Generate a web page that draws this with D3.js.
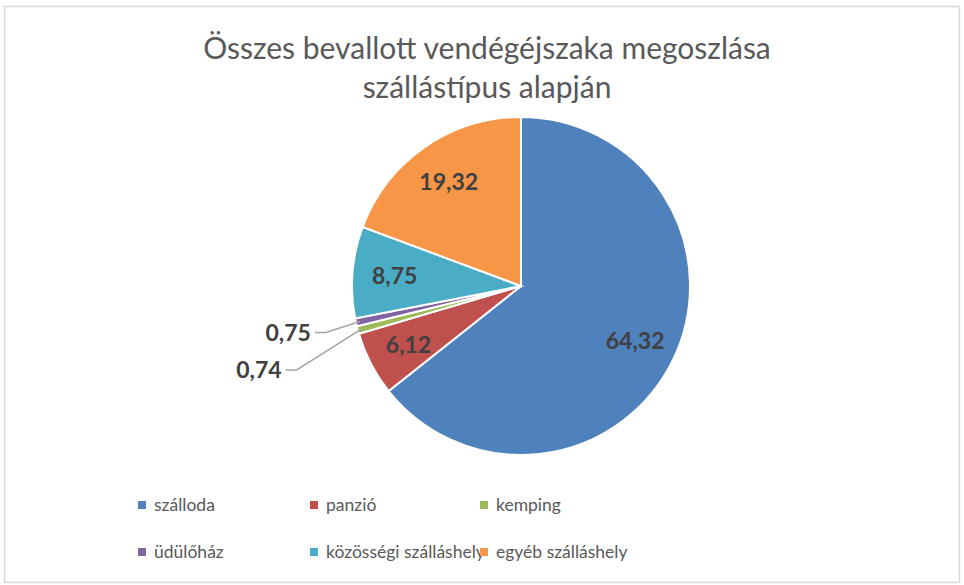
<!DOCTYPE html>
<html>
<head>
<meta charset="utf-8">
<script src="https://cdn.jsdelivr.net/npm/d3@7"></script>
<style>
  body { margin: 0; background: #fff; }
  text { font-family: Lato, "Open Sans", sans-serif; }
</style>
</head>
<body>
<div id="chart"></div>
<script>
// Data
const categories = ["szálloda", "panzió", "kemping", "üdülőház", "közösségi szálláshely", "egyéb szálláshely"];
const values = [64.32, 6.12, 0.74, 0.75, 8.75, 19.32];
const colors = ["#4F81BD", "#C0504D", "#9BBB59", "#8064A2", "#4BACC6", "#F79646"];
const titleLines = ["Összes bevallott vendégéjszaka megoszlása", "szállástípus alapján"];

const width = 964, height = 585;
const cx = 521, cy = 286, radius = 169;

const svg = d3.select("#chart")
    .append("svg")
    .attr("width", width)
    .attr("height", height);

// chart frame
svg.append("rect")
    .attr("x", 4.5).attr("y", 6.5)
    .attr("width", 955).attr("height", 576)
    .attr("fill", "#fff")
    .attr("stroke", "#d9d9d9")
    .attr("stroke-width", 1.5);

// Title
svg.append("text")
    .attr("x", 489)
    .attr("y", 59)
    .attr("text-anchor", "middle")
    .attr("fill", "#595959")
    .style("font-size", "30px")
    .selectAll("tspan")
    .data(titleLines)
    .enter().append("tspan")
    .attr("x", 487)
    .attr("dy", (d, i) => i === 0 ? 0 : 39)
    .text(d => d);

const rows = categories.map((c, i) => ({ name: c, value: values[i], color: colors[i] }));

const pie = d3.pie()
    .sort(null)
    .value(d => d.value);

const arcs = pie(rows);

const arc = d3.arc().innerRadius(0).outerRadius(radius);
const labelArc = d3.arc().innerRadius(radius * 0.75).outerRadius(radius * 0.75);
const edgeArc = d3.arc().innerRadius(radius - 4).outerRadius(radius - 4);

const g = svg.append("g")
    .attr("transform", "translate(" + cx + "," + cy + ")");

g.selectAll("path.slice")
    .data(arcs)
    .enter().append("path")
    .attr("class", "slice")
    .attr("d", arc)
    .attr("fill", d => d.data.color)
    .attr("stroke", "#fff")
    .attr("stroke-width", 2);

const fmt = v => String(v.toFixed(2)).replace(".", ",");

// big slices: labels inside
g.selectAll("text.inlabel")
    .data(arcs.filter(d => d.data.value > 2))
    .enter().append("text")
    .attr("class", "inlabel")
    .attr("transform", d => "translate(" + labelArc.centroid(d) + ")")
    .attr("text-anchor", "middle")
    .attr("dy", "0.36em")
    .attr("fill", "#404040")
    .style("font-size", "23px")
    .style("font-weight", "bold")
    .text(d => fmt(d.data.value));

// small slices: labels outside with leader lines (elbow offset from the edge point)
const elbows = { "kemping": [-65, 41], "üdülőház": [-34, 11] };
const small = arcs.filter(d => d.data.value <= 2);

small.forEach(d => {
    const p = edgeArc.centroid(d);
    const off = elbows[d.data.name];
    const e = [p[0] + off[0], p[1] + off[1]];
    const end = [e[0] - 11, e[1]];
    g.append("polyline")
        .attr("points", [p, e, end].map(q => q.join(",")).join(" "))
        .attr("fill", "none")
        .attr("stroke", "#a6a6a6")
        .attr("stroke-width", 1.5);
    g.append("text")
        .attr("x", end[0] - 4)
        .attr("y", end[1])
        .attr("dy", "0.36em")
        .attr("text-anchor", "end")
        .attr("fill", "#404040")
        .style("font-size", "23px")
        .style("font-weight", "bold")
        .text(fmt(d.data.value));
});

// Legend
const legendX = [138, 310, 480];
const legendY = [505, 552];

const legend = svg.selectAll(".legend")
    .data(rows)
    .enter().append("g")
    .attr("class", "legend")
    .attr("transform", (d, i) => "translate(" + legendX[i % 3] + "," + legendY[Math.floor(i / 3)] + ")");

legend.append("rect")
    .attr("x", 0)
    .attr("y", -4)
    .attr("width", 8)
    .attr("height", 8)
    .attr("fill", d => d.color);

legend.append("text")
    .attr("x", 16)
    .attr("y", 0)
    .attr("dy", "0.35em")
    .attr("fill", "#595959")
    .style("font-size", "17.5px")
    .text(d => d.name);
</script>
</body>
</html>
